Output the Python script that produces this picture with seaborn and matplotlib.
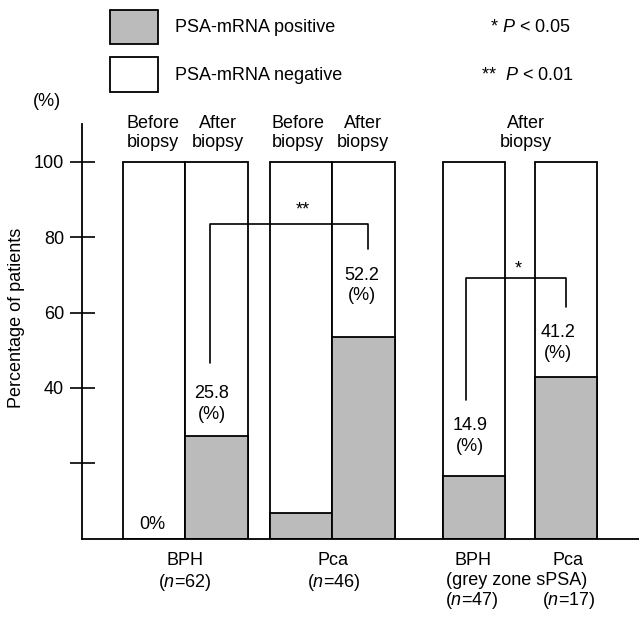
import matplotlib
matplotlib.use("Agg")
import matplotlib.pyplot as plt
import seaborn as sns
import pandas as pd
from matplotlib.patches import Rectangle

# ---- data ----
bar_names = ["BPH before", "BPH after", "Pca before", "Pca after",
             "BPH grey zone after", "Pca grey zone after"]
total_pct = [100, 100, 100, 100, 100, 100]
positive_pct = [0, 27.2, 6.9, 53.6, 16.6, 43.0]
value_labels = ["0%", "25.8\n(%)", "52.2\n(%)", "14.9\n(%)", "41.2\n(%)"]
yticks = [20, 40, 60, 80, 100]
ytick_labels = ["", "40", "60", "80", "100"]

# ---- layout (not data) ----
bar_pos = [1.15, 2.15, 3.50, 4.50, 6.27, 7.74]

sns.set_style("white")
plt.rcParams["font.family"] = ["Liberation Sans", "DejaVu Sans"]
plt.rcParams["mathtext.fontset"] = "custom"
plt.rcParams["mathtext.rm"] = "Liberation Sans"
plt.rcParams["mathtext.it"] = "Liberation Sans:italic"
plt.rcParams["text.color"] = "black"
plt.rcParams["axes.labelcolor"] = "black"
plt.rcParams["xtick.color"] = "black"
plt.rcParams["ytick.color"] = "black"

FS = 13
fig = plt.figure(figsize=(6.39, 6.18), dpi=100)
ax = fig.add_axes([82 / 639, 79.5 / 618, (639 - 82) / 639, (538.5 - 124.3) / 618])

df = pd.DataFrame({"name": bar_names, "pos": bar_pos,
                   "total": total_pct, "positive": positive_pct})

sns.barplot(data=df, x="pos", y="total", native_scale=True, orient="x",
            width=1.0, color="white", edgecolor="black", linewidth=1.3,
            errorbar=None, saturation=1, ax=ax)
sns.barplot(data=df, x="pos", y="positive", native_scale=True, orient="x",
            width=1.0, color="#bbbbbb", edgecolor="black", linewidth=1.3,
            errorbar=None, saturation=1, ax=ax)

ax.set_xlim(0, (639 - 82) / 62.5)
ax.set_ylim(0, 110)
ax.set_xticks([])
ax.set_yticks(yticks)
ax.set_yticklabels(ytick_labels, fontsize=FS)
ax.tick_params(axis="y", direction="inout", length=18, width=1.2, pad=4,
               left=True, labelsize=FS, colors="black")
ax.set_xlabel("")
ax.set_ylabel("Percentage of patients", fontsize=FS, color="black")
ax.yaxis.set_label_coords(-(82 - 25.5) / 557, (538.5 - 318) / (538.5 - 124.3))
for s in ["top", "right"]:
    ax.spines[s].set_visible(False)
for s in ["left", "bottom"]:
    ax.spines[s].set_linewidth(1.3)
    ax.spines[s].set_color("black")

# headers over bars
hdr_y = 107.7
for x, t in [(1.14, "Before\nbiopsy"), (2.18, "After\nbiopsy"),
             (3.46, "Before\nbiopsy"), (4.50, "After\nbiopsy"),
             (7.10, "After\nbiopsy")]:
    ax.text(x, hdr_y, t, ha="center", va="center", fontsize=FS,
            linespacing=1.15, clip_on=False)

# value labels
ax.text(1.13, 3.6, value_labels[0], ha="center", va="center", fontsize=FS)
for x, y, t in [(2.08, 35.6, value_labels[1]), (4.48, 67.2, value_labels[2]),
                (6.21, 27.3, value_labels[3]), (7.61, 52.0, value_labels[4])]:
    ax.text(x, y, t, ha="center", va="center", fontsize=FS, linespacing=1.3)

# significance brackets
lw = 1.2
ax.plot([2.05, 2.05, 4.57, 4.57], [46.7, 83.5, 83.5, 76.8], color="black", lw=lw)
ax.text(3.54, 87.3, "**", ha="center", va="center", fontsize=FS)
ax.plot([6.15, 6.15, 7.74, 7.74], [36.8, 69.3, 69.3, 61.5], color="black", lw=lw)
ax.text(6.98, 71.5, "*", ha="center", va="center", fontsize=FS)

# bottom labels
for x, y, t in [(1.65, -5.9, "BPH"), (1.65, -11.6, "($n$=62)"),
                (4.02, -5.9, "Pca"), (4.02, -11.6, "($n$=46)"),
                (6.25, -5.9, "BPH"), (7.78, -5.9, "Pca"),
                (6.96, -11.2, "(grey zone sPSA)"),
                (6.23, -16.4, "($n$=47)"), (7.78, -16.4, "($n$=17)")]:
    ax.text(x, y, t, ha="center", va="center", fontsize=FS, clip_on=False)

# figure-level legend & notes (pixel coordinates)
W, H = 639, 618
def fx(px): return px / W
def fy(py): return 1 - py / H

fig.patches.append(Rectangle((fx(110), fy(44)), 48 / W, 34 / H,
                             transform=fig.transFigure, facecolor="#bbbbbb",
                             edgecolor="black", lw=1.3))
fig.patches.append(Rectangle((fx(110), fy(92)), 48 / W, 35 / H,
                             transform=fig.transFigure, facecolor="white",
                             edgecolor="black", lw=1.3))
fig.text(fx(175), fy(27), "PSA-mRNA positive", ha="left", va="center", fontsize=FS)
fig.text(fx(175), fy(75), "PSA-mRNA negative", ha="left", va="center", fontsize=FS)
fig.text(fx(571), fy(27), "* $P$ < 0.05", ha="right", va="center", fontsize=FS)
fig.text(fx(574), fy(75), "**  $P$ < 0.01", ha="right", va="center", fontsize=FS)
fig.text(fx(47), fy(102), "(%)", ha="center", va="center", fontsize=FS)

fig.savefig("out.png", dpi=100)
